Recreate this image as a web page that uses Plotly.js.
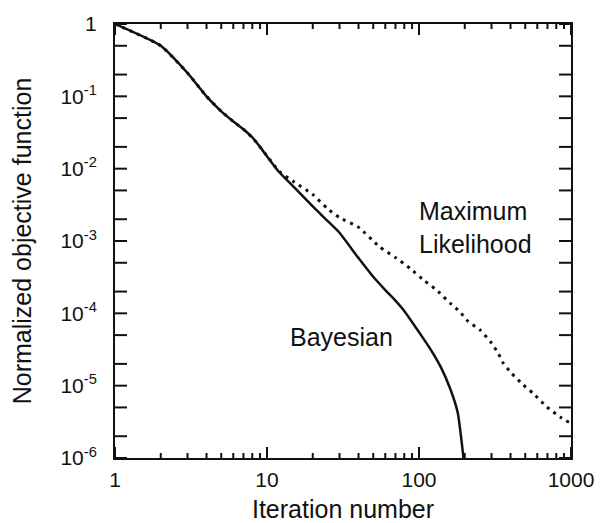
<!DOCTYPE html>
<html>
<head>
<meta charset="utf-8">
<script src="https://cdn.plot.ly/plotly-3.0.1.min.js"></script>
<style>html,body{margin:0;padding:0;background:#fff;}#chart{width:602px;height:523px;}</style>
</head>
<body>
<div id="chart"></div>
<script>
// Bayesian curve
var bayesX = [1, 2, 3, 4, 5, 6, 7, 8, 9, 10, 12, 15, 20, 25, 30, 40, 50, 60, 70, 80, 100, 120, 140, 160, 180, 190, 196, 199];
var bayesY = [1, 0.5, 0.21, 0.1, 0.062, 0.045, 0.035, 0.027, 0.020, 0.0148, 0.009, 0.0056, 0.003, 0.0019, 0.0013, 0.00058, 0.00032, 0.00021, 0.00015, 0.000108, 0.000055, 0.000031, 0.0000176, 0.0000092, 0.0000042, 0.0000018, 0.000001, 0.0000005];
// Maximum Likelihood curve
var mlX = [1, 2, 3, 4, 5, 6, 7, 8, 9, 10, 12, 15, 20, 25, 30, 40, 55, 71, 87, 107, 134, 160, 186, 211, 252, 301, 332, 359, 407, 486, 565, 692, 847, 1000];
var mlY = [1, 0.5, 0.21, 0.1, 0.062, 0.045, 0.035, 0.027, 0.020, 0.015, 0.0092, 0.0066, 0.0044, 0.0028, 0.0021, 0.00155, 0.00083, 0.00058, 0.00042, 0.00029, 0.0002, 0.000138, 0.000105, 0.000077, 0.000059, 0.0000385, 0.000028, 0.0000204, 0.0000148, 0.0000102, 0.0000078, 0.0000051, 0.0000037, 0.000003];

var xTickVals = [1, 10, 100, 1000];
var xTickText = ["1", "10", "100", "1000"];
var yTickVals = [1, 0.1, 0.01, 0.001, 0.0001, 0.00001, 0.000001];
var yTickText = ["1", "10<sup>-1</sup>", "10<sup>-2</sup>", "10<sup>-3</sup>", "10<sup>-4</sup>", "10<sup>-5</sup>", "10<sup>-6</sup>"];

// minor tick positions (axis decoration): 2..9 per decade on x, 2 and 5 on y
var xMinor = [];
for (var d = 0; d < 3; d++) for (var m = 2; m <= 9; m++) xMinor.push(m * Math.pow(10, d));
var yMinor = [];
for (var e = -6; e < 0; e++) { yMinor.push(2 * Math.pow(10, e)); yMinor.push(5 * Math.pow(10, e)); }

var W = 602, H = 523, ML = 115, MR = 31, MT = 24, MB = 65;
var PLOT_W = W - ML - MR, PLOT_H = H - MT - MB;
var X_RANGE = [0, 3], Y_RANGE = [-6, 0];
var FONT = "Liberation Sans, Arial, Helvetica, sans-serif";
var INK = "#111";

// inward tick marks on all four sides, built from the tick arrays (length given in pixels)
var tickX = [], tickY = [];
var xLo = Math.pow(10, X_RANGE[0]), xHi = Math.pow(10, X_RANGE[1]);
var yLo = Math.pow(10, Y_RANGE[0]), yHi = Math.pow(10, Y_RANGE[1]);
var decPerPxY = (Y_RANGE[1] - Y_RANGE[0]) / PLOT_H;
var decPerPxX = (X_RANGE[1] - X_RANGE[0]) / PLOT_W;
function addXTick(v, len) {
  var f = Math.pow(10, len * decPerPxY);
  tickX.push(v, v, null, v, v, null);
  tickY.push(yLo, yLo * f, null, yHi, yHi / f, null);
}
function addYTick(v, len) {
  var f = Math.pow(10, len * decPerPxX);
  tickX.push(xLo, xLo * f, null, xHi, xHi / f, null);
  tickY.push(v, v, null, v, v, null);
}
xTickVals.forEach(function (v) { addXTick(v, 11); });
xMinor.forEach(function (v) { addXTick(v, 5); });
yTickVals.forEach(function (v) { addYTick(v, 12); });
yMinor.forEach(function (v) { addYTick(v, 12); });

var traces = [
  {x: tickX, y: tickY, type: "scatter", mode: "lines", name: "ticks", hoverinfo: "skip",
   connectgaps: false, line: {color: INK, width: 2}},
  {x: mlX, y: mlY, type: "scatter", mode: "lines", name: "Maximum Likelihood",
   line: {color: INK, width: 3, dash: "3px,5px", shape: "spline", smoothing: 0.5}},
  {x: bayesX, y: bayesY, type: "scatter", mode: "lines", name: "Bayesian",
   line: {color: INK, width: 2.5, shape: "spline", smoothing: 0.5}}
];
var layout = {
  width: W, height: H,
  margin: {l: ML, r: MR, t: MT, b: MB},
  showlegend: false,
  font: {family: FONT, size: 21, color: INK},
  xaxis: {
    type: "log", range: X_RANGE,
    tickmode: "array", tickvals: xTickVals, ticktext: xTickText,
    ticks: "",
    showline: true, linecolor: INK, linewidth: 2, mirror: true,
    showgrid: false, zeroline: false,
    ticklabelstandoff: 2,
    tickfont: {size: 21},
    title: {text: "Iteration number", font: {size: 25}, standoff: 18}
  },
  yaxis: {
    type: "log", range: Y_RANGE,
    tickmode: "array", tickvals: yTickVals, ticktext: yTickText,
    ticks: "",
    showline: true, linecolor: INK, linewidth: 2, mirror: true,
    showgrid: false, zeroline: false,
    ticklabelstandoff: 12,
    tickfont: {size: 21},
    title: {text: "Normalized objective function", font: {size: 25}, standoff: 22}
  },
  annotations: [
    {xref: "paper", yref: "paper", x: 0.662, y: 0.532, xanchor: "left", yanchor: "middle",
     text: "Maximum<br>Likelihood", align: "left", showarrow: false, font: {size: 25, color: INK}},
    {xref: "paper", yref: "paper", x: 0.38, y: 0.279, xanchor: "left", yanchor: "middle",
     text: "Bayesian", align: "left", showarrow: false, font: {size: 25, color: INK}}
  ]
};
Plotly.newPlot("chart", traces, layout, {displayModeBar: false});
</script>
</body>
</html>
